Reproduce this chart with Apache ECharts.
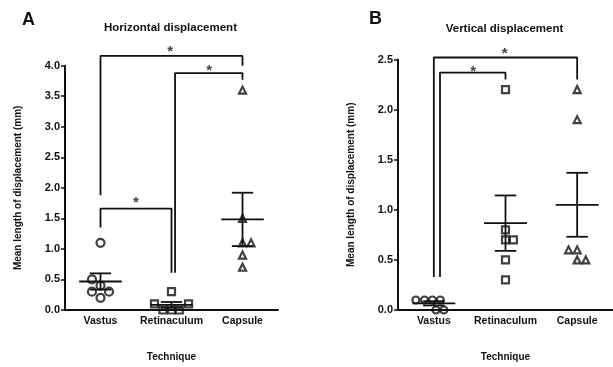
<!DOCTYPE html>
<html>
<head>
<meta charset="utf-8">
<script src="https://cdn.jsdelivr.net/npm/echarts@6/dist/echarts.min.js"></script>
<style>
  html, body { margin: 0; padding: 0; background: #fff; }
  #chart { width: 613px; height: 367px; }
</style>
</head>
<body>
<div id="chart"></div>
<script>
const categories = ['Vastus', 'Retinaculum', 'Capsule'];

// A: horizontal displacement (mm), six samples per technique
const horizVastus = [1.1, 0.5, 0.4, 0.3, 0.3, 0.2];
const horizVastusJitter = [0, -0.12, 0, -0.12, 0.12, 0];
const horizRetinaculum = [0.3, 0.1, 0.1, 0, 0, 0];
const horizRetinaculumJitter = [0, -0.24, 0.24, -0.12, 0, 0.11];
const horizCapsule = [3.6, 1.5, 1.1, 1.1, 0.9, 0.7];
const horizCapsuleJitter = [0, 0, 0, 0.12, 0, 0];

// B: vertical displacement (mm)
const vertVastus = [0.1, 0.1, 0.1, 0.1, 0, 0];
const vertVastusJitter = [-0.25, -0.13, -0.02, 0.09, 0.03, 0.14];
const vertRetinaculum = [2.2, 0.8, 0.7, 0.7, 0.5, 0.3];
const vertRetinaculumJitter = [0, 0, 0, 0.11, 0, 0];
const vertCapsule = [2.2, 1.9, 0.6, 0.6, 0.5, 0.5];
const vertCapsuleJitter = [0, 0, -0.12, 0, 0, 0.12];

// significance brackets [x, y] in category index / mm
const bracketsA = [
  [[0, 1.88], [0, 4.16], [2, 4.16], [2, 4.0]],
  [[1.05, 0.61], [1.05, 3.88], [2, 3.88], [2, 3.77]],
  [[0, 1.35], [0, 1.66], [1, 1.66], [1, 0.61]]
];
const starsA = [[0.98, 4.28], [1.53, 3.96], [0.5, 1.81]];
const bracketsB = [
  [[0, 0.33], [0, 2.52], [2, 2.52], [2, 2.30]],
  [[0.086, 0.33], [0.086, 2.37], [1, 2.37], [1, 2.30]]
];
const starsB = [[0.99, 2.59], [0.55, 2.41]];

const yTickMaxA = 4.0;
const yTickMaxB = 2.5;

const ink = '#111';
const font = 'Liberation Sans, Arial, sans-serif';

function meanSem(arr) {
  const n = arr.length;
  const m = arr.reduce((a, b) => a + b, 0) / n;
  const v = arr.reduce((a, b) => a + (b - m) * (b - m), 0) / (n - 1);
  return [m, Math.sqrt(v) / Math.sqrt(n)];
}

function points(vals, jitter, idx) {
  return vals.map((v, i) => [idx + jitter[i], v]);
}

const chart = echarts.init(document.getElementById('chart'));

function xAxes(gridIndex) {
  return [
    {
      type: 'category', gridIndex, data: categories,
      name: 'Technique', nameLocation: 'middle', nameGap: 42,
      nameTextStyle: { color: ink, fontWeight: 'bold', fontSize: 10, fontFamily: font },
      axisLine: { lineStyle: { color: ink, width: 2 } },
      axisTick: { alignWithLabel: true, length: 4, lineStyle: { color: ink, width: 1.5 } },
      axisLabel: { interval: 0, color: ink, fontWeight: 'bold', fontSize: 10.5, fontFamily: font, margin: 6 }
    },
    { type: 'value', gridIndex, min: -0.5, max: 2.5, show: false }
  ];
}

function yAxis(gridIndex, max) {
  return {
    type: 'value', gridIndex, min: 0, max, interval: 0.5,
    name: 'Mean length of displacement (mm)', nameLocation: 'middle', nameGap: 42,
    nameTextStyle: { color: ink, fontWeight: 'bold', fontSize: 10, fontFamily: font },
    axisLine: { show: true, onZero: false, lineStyle: { color: ink, width: 2 } },
    axisTick: { show: true, length: 4, lineStyle: { color: ink, width: 1.5 } },
    splitLine: { show: false },
    axisLabel: { color: ink, fontWeight: 'bold', fontSize: 11, fontFamily: font, margin: 5,
      formatter: v => v.toFixed(1) }
  };
}

function scatter(xi, yi, data, symbol, size) {
  return {
    type: 'scatter', xAxisIndex: xi, yAxisIndex: yi, data, symbol, symbolSize: size,
    itemStyle: { color: 'rgba(255,255,255,0)', borderColor: ink, borderWidth: 2.2 },
    silent: true, z: 3
  };
}

function meanBars(xi, yi, groups) {
  return {
    type: 'custom', xAxisIndex: xi, yAxisIndex: yi, z: 4, silent: true,
    data: groups.map((g, i) => { const ms = meanSem(g); return [i, ms[0], ms[1]]; }),
    encode: { x: 0, y: 1 },
    renderItem: (params, api) => {
      const x = api.value(0), m = api.value(1), s = api.value(2);
      const st = { stroke: ink, lineWidth: 1.8 };
      const seg = (a, b) => {
        const p = api.coord(a), q = api.coord(b);
        return { type: 'line', shape: { x1: p[0], y1: p[1], x2: q[0], y2: q[1] }, style: st };
      };
      return {
        type: 'group',
        children: [
          seg([x - 0.3, m], [x + 0.3, m]),
          seg([x, m - s], [x, m + s]),
          seg([x - 0.15, m + s], [x + 0.15, m + s]),
          seg([x - 0.15, m - s], [x + 0.15, m - s])
        ]
      };
    }
  };
}

function bracketSeries(xi, yi, list) {
  return list.map(b => ({
    type: 'line', xAxisIndex: xi, yAxisIndex: yi, data: b, symbol: 'none', clip: false,
    lineStyle: { color: ink, width: 1.8 }, silent: true, z: 2
  }));
}

function starSeries(xi, yi, list) {
  return {
    type: 'scatter', xAxisIndex: xi, yAxisIndex: yi, data: list, symbolSize: 1, clip: false,
    itemStyle: { color: 'rgba(0,0,0,0)' }, silent: true,
    label: { show: true, position: 'inside', formatter: '*', color: ink, fontSize: 15,
      fontWeight: 'bold', fontFamily: font, offset: [0, 3] }
  };
}

const option = {
  animation: false,
  grid: [
    { left: 65, top: 65.7, width: 213, height: 250.3 },
    { left: 398, top: 59.5, width: 215, height: 253.8 }
  ],
  xAxis: [...xAxes(0), ...xAxes(1)],
  yAxis: [yAxis(0, yTickMaxA), yAxis(1, yTickMaxB)],
  graphic: [
    { type: 'text', left: 22, top: 11, style: { text: 'A', font: 'bold 18px ' + font, fill: ink } },
    { type: 'text', left: 369, top: 10, style: { text: 'B', font: 'bold 18px ' + font, fill: ink } },
    { type: 'text', x: 170.5, y: 28, style: { text: 'Horizontal displacement', font: 'bold 11.5px ' + font,
      fill: ink, textAlign: 'center', textVerticalAlign: 'middle' } },
    { type: 'text', x: 504.5, y: 29, style: { text: 'Vertical displacement', font: 'bold 11.5px ' + font,
      fill: ink, textAlign: 'center', textVerticalAlign: 'middle' } }
  ],
  series: [
    ...bracketSeries(1, 0, bracketsA),
    starSeries(1, 0, starsA),
    scatter(1, 0, points(horizVastus, horizVastusJitter, 0), 'circle', 8),
    scatter(1, 0, points(horizRetinaculum, horizRetinaculumJitter, 1), 'rect', 7),
    scatter(1, 0, points(horizCapsule, horizCapsuleJitter, 2), 'triangle', 7),
    meanBars(1, 0, [horizVastus, horizRetinaculum, horizCapsule]),

    ...bracketSeries(3, 1, bracketsB),
    starSeries(3, 1, starsB),
    scatter(3, 1, points(vertVastus, vertVastusJitter, 0), 'circle', 7),
    scatter(3, 1, points(vertRetinaculum, vertRetinaculumJitter, 1), 'rect', 7),
    scatter(3, 1, points(vertCapsule, vertCapsuleJitter, 2), 'triangle', 7),
    meanBars(3, 1, [vertVastus, vertRetinaculum, vertCapsule])
  ]
};

chart.setOption(option);
</script>
</body>
</html>
